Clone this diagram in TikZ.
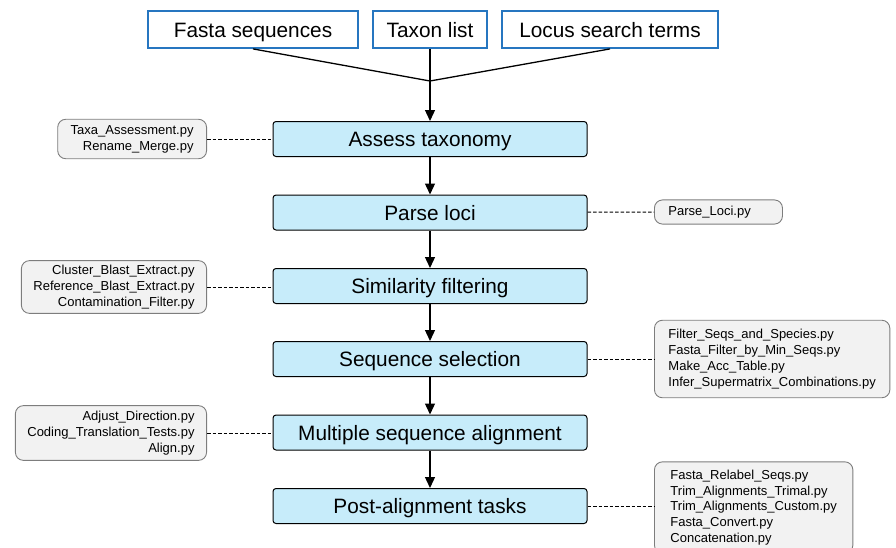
\documentclass[tikz,border=0pt]{standalone}
\usepackage{fontspec}
\setmainfont{Liberation Sans}
\usepackage{xcolor}
\usetikzlibrary{arrows.meta}

\definecolor{inblue}{RGB}{38,118,192}
\definecolor{stagefill}{RGB}{199,236,250}
\definecolor{scriptfill}{RGB}{242,242,242}
\definecolor{scriptline}{RGB}{125,125,125}

\begin{document}
\begin{tikzpicture}[x=1pt,y=-1pt,>={Triangle[length=11pt,width=10pt]},
  inbox/.style={draw=inblue,line width=1.8pt,minimum height=37pt,inner sep=0pt,text height=15pt,text depth=0pt,font=\fontsize{20.8}{24}\selectfont},
  stage/.style={draw,fill=stagefill,rounded corners=3pt,line width=1pt,minimum width=314pt,minimum height=35pt,inner sep=0pt,text height=15pt,text depth=0pt,font=\fontsize{20.8}{24}\selectfont},
  script/.style={draw=scriptline,fill=scriptfill,rounded corners=8pt,line width=0.9pt,inner xsep=12pt,inner ysep=6pt,font=\fontsize{13}{15.8}\selectfont},
  flow/.style={->,line width=1.3pt},
  tie/.style={line width=1pt,dash pattern=on 3.5pt off 2pt}]
  \useasboundingbox (0,0) rectangle (896,547);
  % inputs
  \node[inbox,minimum width=210pt] (fasta) at (253,29.5) {Fasta sequences};
  \node[inbox,minimum width=114pt] (taxon) at (430,29.5) {Taxon list};
  \node[inbox,minimum width=216pt] (locus) at (610,29.5) {Locus search terms};
  \coordinate (join) at (430,81);
  % pipeline stages
  \node[stage] (assess) at (430,139) {Assess taxonomy};
  \node[stage] (parse) at (430,212.5) {Parse loci};
  \node[stage] (simil) at (430,286) {Similarity filtering};
  \node[stage] (select) at (430,359) {Sequence selection};
  \node[stage] (msa) at (430,432.5) {Multiple sequence alignment};
  \node[stage] (post) at (430,506) {Post-alignment tasks};
  % scripts
  \node[script,align=right,anchor=east,inner xsep=13pt] (taxa) at (207,139) {Taxa\_Assessment.py\\Rename\_Merge.py};
  \node[script,align=left,anchor=west,text width=100pt,inner xsep=14pt] (loci) at (654,212) {Parse\_Loci.py};
  \node[script,align=right,anchor=east,inner ysep=4.5pt] (blast) at (207,287) {Cluster\_Blast\_Extract.py\\Reference\_Blast\_Extract.py\\Contamination\_Filter.py};
  \node[script,align=left,anchor=west,inner xsep=14pt,inner ysep=9pt] (filter) at (654,359) {Filter\_Seqs\_and\_Species.py\\Fasta\_Filter\_by\_Min\_Seqs.py\\Make\_Acc\_Table.py\\Infer\_Supermatrix\_Combinations.py};
  \node[script,align=right,anchor=east,inner ysep=5.5pt] (align) at (207,433) {Adjust\_Direction.py\\Coding\_Translation\_Tests.py\\Align.py};
  \node[script,align=left,anchor=west,inner xsep=16pt,inner ysep=8pt] (relabel) at (654,507.5) {Fasta\_Relabel\_Seqs.py\\Trim\_Alignments\_Trimal.py\\Trim\_Alignments\_Custom.py\\Fasta\_Convert.py\\Concatenation.py};
  % arrows
  \draw[line width=1.3pt] (fasta.south) -- (join);
  \draw[line width=1.3pt] (locus.south) -- (join);
  \draw[flow] (taxon) -- (assess);
  \draw[flow] (assess) -- (parse);
  \draw[flow] (parse) -- (simil);
  \draw[flow] (simil) -- (select);
  \draw[flow] (select) -- (msa);
  \draw[flow] (msa) -- (post);
  % dashed ties
  \draw[tie] (taxa) -- (assess);
  \draw[tie] (parse) -- (loci);
  \draw[tie] (blast.east) -- (simil.west |- blast.east);
  \draw[tie] (select) -- (filter);
  \draw[tie] (align) -- (msa.west |- align.east);
  \draw[tie] (post) -- (relabel.west |- post.east);
\end{tikzpicture}
\end{document}
